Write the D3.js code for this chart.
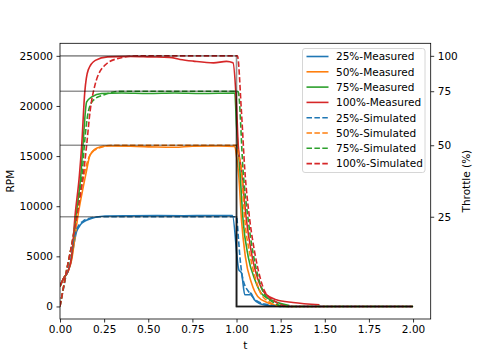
<!DOCTYPE html>
<html>
<head>
<meta charset="utf-8">
<script src="https://cdn.jsdelivr.net/npm/d3@7"></script>
<style>
  body { margin: 0; background: #fff; }
  text { font-family: "DejaVu Sans", sans-serif; }
</style>
</head>
<body>
<script>
// chart values
var xTicks = [0, 0.25, 0.5, 0.75, 1.0, 1.25, 1.5, 1.75, 2.0]
var rpmTicks = [0, 5000, 10000, 15000, 20000, 25000]
var throttleLabels = ["25", "50", "75", "100"]
var throttleLevels = [8950, 16080, 21470, 25000]   // rpm level of each throttle step

var colors = ["#1f77b4", "#ff7f0e", "#2ca02c", "#d62728"]
var legendNames = ["25%-Measured", "50%-Measured", "75%-Measured", "100%-Measured",
                   "25%-Simulated", "50%-Simulated", "75%-Simulated", "100%-Simulated"]

// measured runs: [t, rpm]
var measured25 = [[0,2000],[0.02,2800],[0.045,3500],[0.06,4300],[0.075,5800],[0.094,7470],[0.11,8000],[0.123,8300],[0.15,8600],[0.18,8800],[0.255,9030],
  [0.4,9050],[0.55,9060],[0.7,9050],[0.85,9070],[0.977,9060],[1.013,3650],[1.028,3350],[1.047,1165],[1.075,1165],[1.08,1330],[1.1,700],[1.13,300],[1.2,50]]
var measured50 = [[0,2000],[0.02,2800],[0.045,3500],[0.066,4640],[0.085,6970],[0.104,9300],[0.132,11950],[0.151,13600],[0.17,15100],[0.21,15800],[0.26,16000],
  [0.4,15980],[0.55,15900],[0.65,15880],[0.75,15980],[0.9,16000],[0.99,15950],[1.0,15000],[1.013,13000],[1.028,8640],[1.05,4980],[1.085,2330],[1.12,1000],[1.18,340],[1.25,0]]
var measured75 = [[0,2000],[0.02,2800],[0.045,3500],[0.066,5000],[0.09,9000],[0.118,13100],[0.13,16100],[0.151,20400],[0.18,20900],[0.236,21250],
  [0.35,21300],[0.5,21250],[0.65,21300],[0.8,21250],[0.99,21300],[1.0,18000],[1.019,13600],[1.037,8640],[1.066,4980],[1.104,2660],[1.14,1330],[1.217,500],[1.3,100]]
var measured100 = [[0,2000],[0.02,2800],[0.045,3500],[0.066,4980],[0.085,9000],[0.11,13100],[0.123,16100],[0.14,21300],[0.16,23600],[0.2,24550],[0.27,24900],
  [0.4,24950],[0.51,24900],[0.62,24850],[0.68,24640],[0.755,24470],[0.87,24300],[0.943,24450],[0.98,24300],[1.0,20000],[1.01,16000],[1.028,13600],
  [1.056,8640],[1.085,5300],[1.122,2660],[1.16,1330],[1.226,670],[1.32,400],[1.47,170]]

// simulated runs: [t, rpm]
var simulated25 = [[0,0],[0.04,3600],[0.075,6500],[0.1,7900],[0.13,8500],[0.17,8800],[0.25,8950],[1.0,8950],[1.01,6970],[1.019,4980],[1.037,2660],[1.075,1330],[1.12,500],[1.18,170],[1.25,0],[2.0,0]]
var simulated50 = [[0,0],[0.038,3650],[0.075,7000],[0.1,10000],[0.136,13100],[0.17,15100],[0.217,15780],[0.3,16080],[1.0,16080],[1.01,15200],[1.028,13600],[1.047,8640],[1.075,5300],[1.104,2990],[1.132,1500],[1.18,500],[1.26,0],[2.0,0]]
var simulated75 = [[0,0],[0.038,3650],[0.075,7000],[0.1,10000],[0.125,13100],[0.138,16100],[0.16,19400],[0.189,20580],[0.255,21150],[0.35,21470],[1.0,21470],[1.01,21400],[1.037,13600],[1.066,8640],[1.094,5300],[1.122,2990],[1.15,1500],[1.2,500],[1.28,0],[2.0,0]]
var simulated100 = [[0,0],[0.038,3650],[0.075,6970],[0.105,10000],[0.132,13100],[0.151,16100],[0.17,19400],[0.198,22080],[0.255,24070],[0.33,24740],[0.45,25000],[1.0,25000],[1.005,25000],[1.028,19400],[1.047,13600],[1.075,8640],[1.104,5300],[1.132,2990],[1.16,1500],[1.217,500],[1.3,0],[2.0,0]]

var measuredSeries = [measured25, measured50, measured75, measured100]
var simulatedSeries = [simulated25, simulated50, simulated75, simulated100]

var width = 479, height = 359
var margin = {top: 43.3, right: 48.3, bottom: 40, left: 60}
var plotW = width - margin.left - margin.right
var plotH = height - margin.top - margin.bottom

var svg = d3.select("body").append("svg")
    .attr("width", width)
    .attr("height", height)

var x = d3.scaleLinear().domain([0, 2.1]).range([0, plotW])
var y = d3.scaleLinear().domain([-1250, 26250]).range([plotH, 0])

var g = svg.append("g").attr("transform", "translate(" + margin.left + "," + margin.top + ")")

g.append("clipPath").attr("id", "clip")
  .append("rect").attr("width", plotW).attr("height", plotH)

var line = d3.line().x(function (d) { return x(d[0]) }).y(function (d) { return y(d[1]) })
var smooth = d3.line().curve(d3.curveMonotoneX).x(function (d) { return x(d[0]) }).y(function (d) { return y(d[1]) })

var plot = g.append("g").attr("clip-path", "url(#clip)")

measuredSeries.forEach(function (s, i) {
  plot.append("path").datum(s)
    .attr("d", smooth)
    .attr("fill", "none")
    .attr("stroke", colors[i])
    .attr("stroke-width", 1.6)
})

simulatedSeries.forEach(function (s, i) {
  plot.append("path").datum(s)
    .attr("d", smooth)
    .attr("fill", "none")
    .attr("stroke", colors[i])
    .attr("stroke-width", 1.6)
    .attr("stroke-dasharray", "5.5,2.4")
})

// throttle command steps, drawn translucent so the overlaps darken
throttleLevels.forEach(function (lvl) {
  plot.append("path").datum([[0, lvl], [1, lvl], [1, 0], [2, 0]])
    .attr("d", line)
    .attr("fill", "none")
    .attr("stroke", "#000")
    .attr("stroke-opacity", 0.42)
    .attr("stroke-width", 1.6)
})

// axes
var styleAxis = function (sel) {
  sel.select(".domain").remove()
  sel.selectAll(".tick line").attr("stroke", "#000").attr("stroke-width", 0.8)
  sel.selectAll(".tick text").attr("fill", "#000").style("font-size", "10.5px").style("font-family", "DejaVu Sans")
}

g.append("g")
  .attr("transform", "translate(0," + plotH + ")")
  .call(d3.axisBottom(x).tickValues(xTicks).tickFormat(d3.format(".2f")).tickSize(3.5).tickPadding(3.5))
  .call(styleAxis)

g.append("g")
  .call(d3.axisLeft(y).tickValues(rpmTicks).tickFormat(d3.format("d")).tickSize(3.5).tickPadding(3.5))
  .call(styleAxis)

g.append("g")
  .attr("transform", "translate(" + plotW + ",0)")
  .call(d3.axisRight(y).tickValues(throttleLevels).tickFormat(function (d, i) { return throttleLabels[i] }).tickSize(3.5).tickPadding(3.5))
  .call(styleAxis)

g.append("rect")
  .attr("width", plotW).attr("height", plotH)
  .attr("fill", "none").attr("stroke", "#000").attr("stroke-width", 0.8)

// axis labels
svg.append("text")
  .attr("transform", "translate(14," + (margin.top + plotH / 2) + ") rotate(-90)")
  .attr("text-anchor", "middle")
  .style("font-size", "10.5px")
  .text("RPM")

svg.append("text")
  .attr("x", margin.left + x(1.05)).attr("y", 349)
  .attr("text-anchor", "middle")
  .style("font-size", "10.5px")
  .text("t")

svg.append("text")
  .attr("transform", "translate(470," + (margin.top + plotH / 2) + ") rotate(-90)")
  .attr("text-anchor", "middle")
  .style("font-size", "10.5px")
  .text("Throttle (%)")

// legend
var legend = svg.append("g").attr("transform", "translate(302.5,48.5)")
legend.append("rect")
  .attr("width", 122.5).attr("height", 124)
  .attr("rx", 2.5)
  .attr("fill", "#fff").attr("fill-opacity", 0.8)
  .attr("stroke", "#ccc").attr("stroke-width", 0.8)

legendNames.forEach(function (name, i) {
  var ly = 8 + i * 15.3
  legend.append("line")
    .attr("x1", 4).attr("x2", 26).attr("y1", ly).attr("y2", ly)
    .attr("stroke", colors[i % 4])
    .attr("stroke-width", 1.6)
    .attr("stroke-dasharray", i < 4 ? null : "5.5,2.4")
  legend.append("text")
    .attr("x", 33.5).attr("y", ly + 3.8)
    .style("font-size", "10.5px")
    .text(name)
})
</script>
</body>
</html>
